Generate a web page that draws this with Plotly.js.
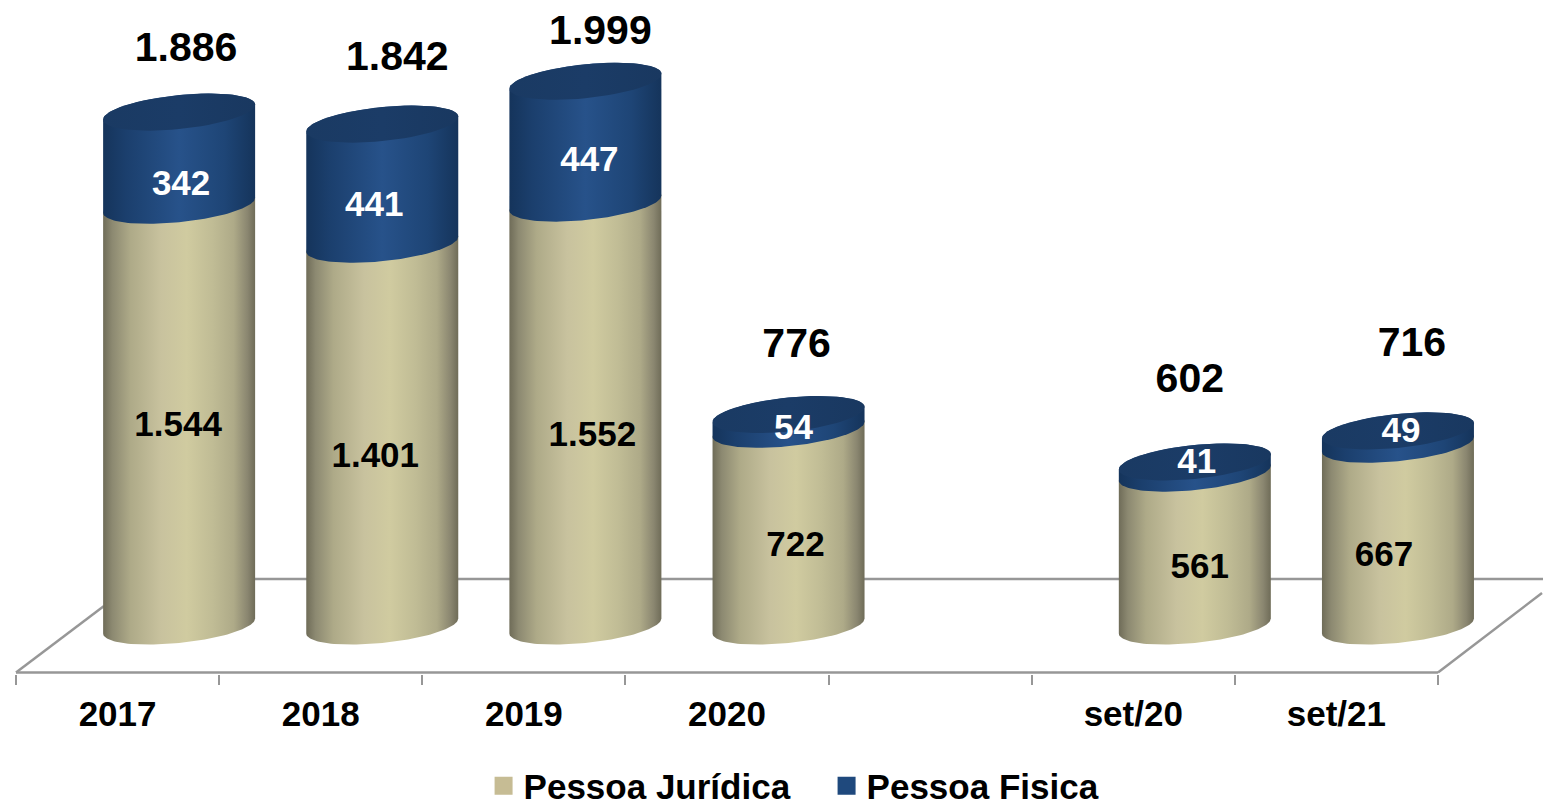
<!DOCTYPE html>
<html>
<head>
<meta charset="utf-8">
<script src="https://cdn.plot.ly/plotly-3.0.1.min.js"></script>
<style>html,body{margin:0;padding:0;background:#fff;overflow:hidden}#c{width:1543px;height:800px}</style>
</head>
<body>
<div id="c"></div>
<script>
// ---- data ----
const categories = ['2017','2018','2019','2020','','set/20','set/21'];
const barSlots   = [0,1,2,3,5,6];
const juridica   = [1544,1401,1552,722,561,667];
const fisica     = [342,441,447,54,41,49];
const totals     = [1886,1842,1999,776,602,716];

// ---- styling / geometry ----
const PXU = 0.2725;          // px per value unit
const SLOT = 203.14;         // px per category slot
const dy = p => -p / PXU;    // downward px -> value units
const dx = p => p / SLOT;    // rightward px -> slot units
const depthX = 0.803;        // bar centre inside its slot (3D depth)
const halfW = 76, tilt = 7.5, halfH = 17, textDrop = 3;
const totalShift = [[7,-64],[15,-67],[15,-51],[8,-71],[-5,-83],[14,-88]];
const fisShift   = [[2,25],[-8,20],[4,17],[5,5],[2,-6.5],[3,-7.6]];
const jurShift   = [[-1,8.4],[-7,20],[7,19.5],[7,16.4],[5,16.4],[-14,19]];
const GREY = '#979797';
const FONT = 'Liberation Sans, Arial, sans-serif';
const BEIGE = [[0,'#6f6c58'],[0.06,'#8c8971'],[0.18,'#aeaa88'],[0.38,'#c8c29e'],[0.55,'#d0cba0'],[0.72,'#c0bc95'],[0.86,'#aeaa88'],[0.95,'#8a8670'],[1,'#6f6c58']];
const BLUE  = [[0,'#15345b'],[0.15,'#1b3f6d'],[0.5,'#27528a'],[0.8,'#1e4576'],[1,'#15345b']];
const fmt = v => String(v).replace(/\B(?=(\d{3})+$)/g, '.');

function arc(slot, val, t0, t1) {
  const xs = [], ys = [], n = 64;
  for (let i = 0; i <= n; i++) {
    const t = t0 + (t1 - t0) * i / n;
    xs.push(slot + depthX + dx(halfW * Math.cos(t)));
    ys.push(val + dy(-tilt * Math.cos(t) + halfH * Math.sin(t)));
  }
  return [xs, ys];
}
function body(slot, lo, hi, scale) {
  const a = arc(slot, hi, Math.PI, 2 * Math.PI), b = arc(slot, lo, 0, Math.PI);
  return {x: a[0].concat(b[0], [a[0][0]]), y: a[1].concat(b[1], [a[1][0]]), mode: 'lines', fill: 'toself',
    line: {width: 0}, fillgradient: {type: 'horizontal', colorscale: scale},
    showlegend: false, hoverinfo: 'skip'};
}
function cap(slot, val) {
  const a = arc(slot, val, 0, 2 * Math.PI);
  return {x: a[0], y: a[1], mode: 'lines', fill: 'toself', line: {width: 0},
    fillgradient: {type: 'horizontal', colorscale: [[0,'#1a3a63'],[0.5,'#1b3c67'],[1,'#193860']]},
    showlegend: false, hoverinfo: 'skip'};
}
function labels(vals, baseFn, shift, size, color) {
  return {mode: 'text', x: vals.map((v,i) => barSlots[i] + depthX + dx(shift[i][0])),
    y: vals.map((v,i) => baseFn(i) + dy(shift[i][1] + textDrop)), text: vals.map(fmt),
    textposition: 'middle center', cliponaxis: false,
    textfont: {family: FONT, size: size, color: color, weight: 700},
    showlegend: false, hoverinfo: 'skip'};
}

// floor and wall lines, in axis units
const yFront = dy(672.5 - 626), yWall = dy(579 - 626), yLeftBack = dy(606 - 626), yRightBack = dy(593 - 626);
const line = (x, y) => ({x, y, mode: 'lines', line: {color: GREY, width: 2.5}, showlegend: false, hoverinfo: 'skip'});
const traces = [
  line([0, 7], [yFront, yFront]),
  line([0, dx(88)], [yFront, yLeftBack]),
  line([7, 7 + dx(104)], [yFront, yRightBack]),
  line([dx(88), 7.6], [yWall, yWall])
];
barSlots.forEach((s, i) => {
  traces.push(body(s, 0, juridica[i], BEIGE));
  traces.push(body(s, juridica[i], totals[i], BLUE));
  traces.push(cap(s, totals[i]));
});
traces.push(labels(juridica, i => juridica[i] / 2, jurShift, 35, '#000000'));
traces.push(labels(fisica, i => juridica[i] + fisica[i] / 2, fisShift, 35, '#ffffff'));
traces.push(labels(totals, i => totals[i], totalShift, 41, '#000000'));
traces.push({x: [null], y: [null], mode: 'markers', name: 'Pessoa Jurídica',
  marker: {symbol: 'square', size: 16, color: '#c6bc94', line: {color: '#c6bc94', width: 2}}, hoverinfo: 'skip'});
traces.push({x: [null], y: [null], mode: 'markers', name: 'Pessoa Fisica',
  marker: {symbol: 'square', size: 16, color: '#1f497d', line: {color: '#1f497d', width: 2}}, hoverinfo: 'skip'});

const layout = {
  width: 1543, height: 800,
  margin: {l: 0, r: 0, t: 0, b: 126, pad: 0},
  paper_bgcolor: '#fff', plot_bgcolor: '#fff',
  showlegend: true,
  legend: {orientation: 'h', xref: 'container', yref: 'container', x: 0.3134, xanchor: 'left', y: 0.0175, yanchor: 'middle',
    font: {family: FONT, size: 35, color: '#000', weight: 700}, itemwidth: 30, entrywidth: 298, entrywidthmode: 'pixels',
    bgcolor: 'rgba(0,0,0,0)', traceorder: 'normal'},
  xaxis: {range: [-16 / SLOT, 1527 / SLOT], showgrid: false, zeroline: false, showline: false, automargin: false,
    tickmode: 'array', tickvals: categories.map((c, i) => i + 0.5), ticktext: categories,
    ticks: '', ticklabelstandoff: 16,
    tickfont: {family: FONT, size: 35, color: '#000', weight: 700},
    minor: {tickmode: 'array', tickvals: categories.concat('').map((c, i) => i), ticks: 'outside',
      ticklen: 10, tickwidth: 2, tickcolor: GREY, showgrid: false}},
  yaxis: {range: [-48 / PXU, 626 / PXU], visible: false, showgrid: false, zeroline: false}
};
Plotly.newPlot('c', traces, layout, {displayModeBar: false, staticPlot: true});
</script>
</body>
</html>
